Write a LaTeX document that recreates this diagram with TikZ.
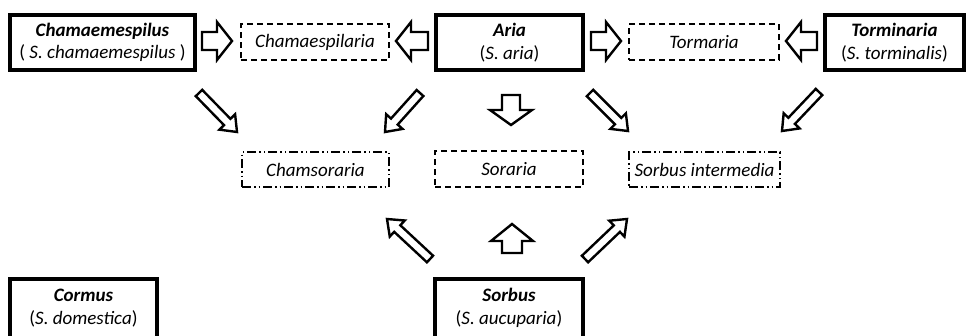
\documentclass[tikz,border=0pt]{standalone}
\usepackage{fontspec}
\setmainfont{Carlito}
\usetikzlibrary{calc}
\tikzset{
  solidbox/.style={draw, line width=4pt, fill=white, align=center, inner sep=0pt, font=\fontsize{19}{22.5}\selectfont},
  cutbox/.style={align=center, inner sep=0pt, font=\fontsize{19}{22.5}\selectfont},
  boxline/.style={draw, line width=4pt, line join=miter},
  dashbox/.style={draw, line width=1.4pt, dash pattern=on 6pt off 4pt, align=center, inner sep=0pt, font=\fontsize{19}{22}\selectfont\itshape},
  ddbox/.style={draw, line width=1.4pt, dash pattern=on 9pt off 3pt on 1.5pt off 3pt on 1.5pt off 3pt, align=center, inner sep=0pt, font=\fontsize{19}{22}\selectfont\itshape},
  barrow/.style={draw, fill=white, line width=2.4pt, line join=miter}
}
\newcommand\blockarr[5]{%
  \coordinate (hb) at ($(#2)!#5!(#1)$);
  \draw[barrow] ($(#1)!#3!90:(#2)$) -- ($(hb)!#3!90:(#2)$) -- ($(hb)!#4!90:(#2)$) -- (#2)
     -- ($(hb)!#4!-90:(#2)$) -- ($(hb)!#3!-90:(#2)$) -- ($(#1)!#3!-90:(#2)$) -- cycle;}
\begin{document}
\begin{tikzpicture}[x=1pt,y=-1pt]
\useasboundingbox (0,0) rectangle (968,335);
\clip (0,0) rectangle (968,335);
% solid boxes
\node[solidbox, minimum width=185pt, minimum height=55pt] (chm) at (102.5,42.5) {\textbf{\textit{Chamaemespilus}}\\( \textit{S. chamaemespilus} )};
\node[solidbox, minimum width=147pt, minimum height=55pt] (aria) at (509.5,42.5) {\textbf{\textit{Aria}}\\(\textit{S. aria})};
\node[solidbox, minimum width=139pt, minimum height=55pt] (torm) at (894.5,42.5) {\textbf{\textit{Torminaria}}\\(\textit{S. torminalis})};
\node[cutbox, minimum width=147pt, minimum height=58pt] (cor) at (83.5,308) {\textbf{\textit{Cormus}}\\(\textit{S. domestica})};
\node[cutbox, minimum width=148pt, minimum height=58pt] (sorb) at (509,308) {\textbf{\textit{Sorbus}}\\(\textit{S. aucuparia})};
\draw[boxline] ([yshift=-12pt]cor.south west) |- (cor.north east) -- ([yshift=-12pt]cor.south east);
\draw[boxline] ([yshift=-12pt]sorb.south west) |- (sorb.north east) -- ([yshift=-12pt]sorb.south east);
% dashed boxes
\node[dashbox, minimum width=148pt, minimum height=36pt] (chsp) at (315,42) {Chamaespilaria};
\node[dashbox, minimum width=150pt, minimum height=36pt] (tormar) at (704,42) {Tormaria};
\node[dashbox, minimum width=148pt, minimum height=36pt] (sorar) at (509,169) {Soraria};
\node[ddbox, minimum width=147pt, minimum height=35pt] (chso) at (315.5,169.5) {Chamsoraria};
\node[ddbox, minimum width=151pt, minimum height=35pt] (sint) at (704.5,169.5) {Sorbus intermedia};
% arrow end points
\coordinate (a1s) at (202,41); \coordinate (a1e) at (232,41);
\coordinate (a2s) at (428,41); \coordinate (a2e) at (396,41);
\coordinate (a3s) at (591,41); \coordinate (a3e) at (621,41);
\coordinate (a4s) at (817,41); \coordinate (a4e) at (786,41);
\coordinate (d1s) at (199,93); \coordinate (d1e) at (237,132);
\coordinate (d2s) at (420,93); \coordinate (d2e) at (385,132);
\coordinate (d3s) at (511,95); \coordinate (d3e) at (511,125);
\coordinate (d4s) at (590,93); \coordinate (d4e) at (628,131);
\coordinate (d5s) at (819,92); \coordinate (d5e) at (782,131);
\coordinate (u1s) at (430,259); \coordinate (u1e) at (387,219);
\coordinate (u2s) at (512,253); \coordinate (u2e) at (512,224);
\coordinate (u3s) at (585,259); \coordinate (u3e) at (627,219);
% arrows
\blockarr{a1s}{a1e}{9pt}{19pt}{15pt}
\blockarr{a2s}{a2e}{9pt}{19pt}{15pt}
\blockarr{a3s}{a3e}{9pt}{19pt}{15pt}
\blockarr{a4s}{a4e}{9pt}{19pt}{15pt}
\blockarr{d1s}{d1e}{4.5pt}{11pt}{14pt}
\blockarr{d2s}{d2e}{4.5pt}{11pt}{14pt}
\blockarr{d3s}{d3e}{9pt}{21pt}{15pt}
\blockarr{d4s}{d4e}{4.5pt}{11pt}{14pt}
\blockarr{d5s}{d5e}{4.5pt}{11pt}{14pt}
\blockarr{u1s}{u1e}{4.5pt}{11pt}{14pt}
\blockarr{u2s}{u2e}{10pt}{21pt}{17pt}
\blockarr{u3s}{u3e}{4.5pt}{11pt}{14pt}
\end{tikzpicture}
\end{document}
